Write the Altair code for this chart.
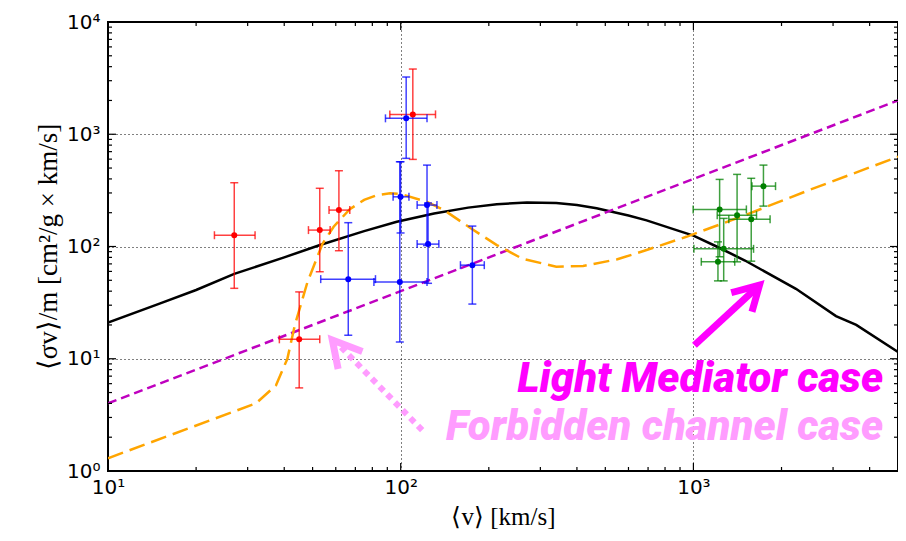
import altair as alt
import pandas as pd

# ---------------- data ----------------
X_DOMAIN = [10, 5000]
Y_DOMAIN = [1, 10000]

# black solid curve
black_v = [10, 15, 20, 27, 40, 53, 75, 97, 130, 170, 213, 270, 340, 400, 467, 550, 600, 692,
           875, 1000, 1200, 1500, 2240, 3070, 3600, 5000]
black_s = [21, 31, 41, 57, 80, 103, 137, 166, 197, 222, 238, 247, 244, 234, 219, 199, 189, 171,
           140, 125, 100, 75, 42, 24, 20, 11.5]

# magenta dashed line
mag_v = [10, 100, 1000, 5000]
mag_s = [4, 40, 400, 2000]

# orange long-dashed curve
org_v = [10, 32, 37.5, 41, 43.5, 48, 54, 59, 67, 75, 83, 92, 100, 123, 141, 173, 213,
         260, 340, 420, 550, 692, 946, 1500, 2500, 5000]
org_s = [1.3, 4.0, 5.8, 10, 20, 48, 105, 150, 215, 260, 287, 298, 294, 250, 210, 146, 103,
         78, 66, 67, 77, 93, 122, 190, 320, 630]

# red points
red_v = [27.0, 52.9, 61.5, 45.0, 110]
red_s = [126, 140, 211, 14.9, 1503]
red_xlo = [23.1, 48.4, 56.9, 38.5, 91.8]
red_xhi = [31.8, 57.4, 67.0, 52.9, 131.5]
red_ylo = [42.4, 59.6, 91.7, 5.5, 597]
red_yhi = [370, 330, 473, 39.4, 3810]

# blue points
blue_v = [104.4, 99.9, 123, 124, 99.3, 66.2, 175.7]
blue_s = [1386, 277, 234, 105, 48.4, 51.2, 68.2]
blue_xlo = [88.7, 94.2, 113.8, 113.8, 81, 53.3, 160]
blue_xhi = [123, 106.7, 133, 135, 123, 82, 193]
blue_ylo = [610, 132, 102, 47, 14.1, 16.2, 30.7]
blue_yhi = [3235, 569, 531, 244, 569, 163, 152]

# green points
green_v = [1229, 1410, 1576, 1735, 1269, 1213]
green_s = [214, 190, 175, 345, 95.3, 73.1]
green_xlo = [998, 1206, 1321, 1585, 1004, 1064]
green_xhi = [1517, 1643, 1828, 1908, 1605, 1384]
green_ylo = [81, 73, 74, 229, 49.4, 49.4]
green_yhi = [396, 439, 405, 531, 178, 110]

# annotation arrows (data units)
mag_arrow_shaft_v = [1008, 1682]
mag_arrow_shaft_s = [13.2, 45.3]
mag_arrow_head_v = [1383, 1682, 1597]
mag_arrow_head_s = [39.5, 45.3, 28.1]
pink_arrow_shaft_v = [118.4, 62]
pink_arrow_shaft_s = [2.31, 13.0]
pink_arrow_head_v = [72.1, 58.4, 60.8]
pink_arrow_head_s = [11.9, 14.7, 8.7]

# annotation texts
note_labels = ["Light Mediator case", "Forbidden channel case"]
note_v = [4450, 4450]
note_s = [5.04, 1.88]
note_colors = ["#ff00ff", "#ff9cff"]

# axis ticks
x_major = [10, 100, 1000]
x_minor = [m * 10 ** e for e in (1, 2, 3) for m in range(2, 10) if m * 10 ** e < 5000]
y_major = [1, 10, 100, 1000, 10000]
y_minor = [m * 10 ** e for e in (0, 1, 2, 3) for m in range(2, 10)]

# ---------------- chart ----------------
W, H = 790, 449
xsc = alt.Scale(type="log", domain=X_DOMAIN, nice=False)
ysc = alt.Scale(type="log", domain=Y_DOMAIN, nice=False)

label_expr = "'10' + ['\u2070','\u00b9','\u00b2','\u00b3','\u2074'][round(log(datum.value)/LN10)]"

common_axis = dict(
    labelExpr=label_expr, ticks=False, domain=False, grid=True, gridDash=[1, 3],
    gridColor="black", gridWidth=1, gridOpacity=1, labelFont="DejaVu Sans",
    labelFontSize=20, labelColor="black", labelFlush=False, labelOverlap=False,
    titleFont="Liberation Serif", titleFontWeight="normal", titleColor="black",
)
x_axis = alt.Axis(values=x_major, labelPadding=6, title="\u27e8v\u27e9 [km/s]",
                  titleFontSize=25, titlePadding=7, **common_axis)
y_axis = alt.Axis(values=y_major, labelPadding=8,
                  title="\u27e8\u03c3v\u27e9/m [cm\u00b2/g \u00d7 km/s]",
                  titleFontSize=27, titlePadding=4, **common_axis)


def X(field):
    return alt.X(field, scale=xsc, axis=x_axis)


def Y(field):
    return alt.Y(field, scale=ysc, axis=y_axis)


def line_layer(xs, ys, color, width, dash=None, cap="butt"):
    df = pd.DataFrame({"v": xs, "s": ys, "i": list(range(len(xs)))})
    kw = dict(color=color, strokeWidth=width, clip=True, strokeCap=cap)
    if dash:
        kw["strokeDash"] = dash
    return alt.Chart(df).mark_line(**kw).encode(x=X("v:Q"), y=Y("s:Q"), order="i:Q")


def point_layers(xs, ys, xlo, xhi, ylo, yhi, color):
    df = pd.DataFrame(dict(v=xs, s=ys, xlo=xlo, xhi=xhi, ylo=ylo, yhi=yhi))
    base = alt.Chart(df)
    ev = base.mark_errorbar(ticks=True, size=8, thickness=1.5, color=color, opacity=0.75).encode(
        x=X("v:Q"), y=Y("ylo:Q"), y2="yhi:Q",
    )
    eh = base.mark_errorbar(ticks=True, size=8, thickness=1.5, color=color, opacity=0.75).encode(
        y=Y("s:Q"), x=X("xlo:Q"), x2="xhi:Q",
    )
    pts = base.mark_circle(size=36, color=color, opacity=1).encode(x=X("v:Q"), y=Y("s:Q"))
    return [ev, eh, pts]


def tick_layers():
    out = []
    for vals, ln in ((x_major, 8), (x_minor, 4)):
        df = pd.DataFrame({"t": vals})
        b = alt.Chart(df).mark_rule(color="black", strokeWidth=1.2)
        out.append(b.encode(x=X("t:Q"), y=alt.value(H), y2=alt.value(H - ln)))
        out.append(b.encode(x=X("t:Q"), y=alt.value(0), y2=alt.value(ln)))
    for vals, ln in ((y_major, 8), (y_minor, 4)):
        df = pd.DataFrame({"t": vals})
        b = alt.Chart(df).mark_rule(color="black", strokeWidth=1.2)
        out.append(b.encode(y=Y("t:Q"), x=alt.value(0), x2=alt.value(ln)))
        out.append(b.encode(y=Y("t:Q"), x=alt.value(W), x2=alt.value(W - ln)))
    return out


notes = pd.DataFrame({"v": note_v, "s": note_s, "label": note_labels, "c": note_colors})
text_layer = alt.Chart(notes).mark_text(
    align="right", baseline="alphabetic", font="Roboto", fontSize=42,
    fontWeight=900, fontStyle="italic",
).encode(
    x=X("v:Q"), y=Y("s:Q"), text="label:N", color=alt.Color("c:N", scale=None),
)

layers = [
    line_layer(black_v, black_s, "black", 2.5),
    line_layer(mag_v, mag_s, "#bf00bf", 2.5, dash=[9, 5]),
    line_layer(org_v, org_s, "orange", 2.5, dash=[16, 7]),
]
layers += point_layers(red_v, red_s, red_xlo, red_xhi, red_ylo, red_yhi, "red")
layers += point_layers(blue_v, blue_s, blue_xlo, blue_xhi, blue_ylo, blue_yhi, "blue")
layers += point_layers(green_v, green_s, green_xlo, green_xhi, green_ylo, green_yhi, "green")
layers += [
    line_layer(pink_arrow_shaft_v, pink_arrow_shaft_s, "#ff9cff", 6, dash=[6, 5]),
    line_layer(pink_arrow_head_v, pink_arrow_head_s, "#ff9cff", 7, cap="square"),
    line_layer(mag_arrow_shaft_v, mag_arrow_shaft_s, "#ff00ff", 7),
    line_layer(mag_arrow_head_v, mag_arrow_head_s, "#ff00ff", 7, cap="square"),
    text_layer,
]
layers += tick_layers()

chart = alt.layer(*layers).properties(
    width=W, height=H,
    padding={"left": 100, "top": 14, "right": 0, "bottom": 62},
    autosize=alt.AutoSizeParams(type="none"),
    background="white",
).configure_view(stroke="black", strokeWidth=2)

chart.save("out.html", embed_options={"renderer": "svg", "actions": False})
